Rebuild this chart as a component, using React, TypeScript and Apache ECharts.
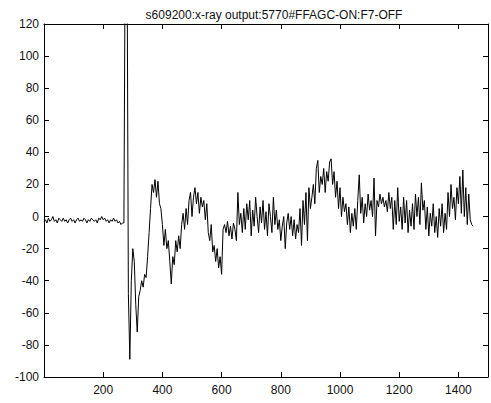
import React, { useEffect, useRef } from "react";
import * as echarts from "echarts";

const titleText = "s609200:x-ray output:5770#FFAGC-ON:F7-OFF";
const xStart = 0;
const xStep = 5;
// sampled signal values, one every 5 samples starting at 0
const signal = [
  -3, -2, -4, -1, -3, -2, 0, -3, -2, -4,
  -1, -2, -3, -1, -3, -2, -4, -2, -1, -3,
  -2, -4, -2, -1, -3, -2, -3, -1, -2, -4,
  -2, -3, -1, -2, -3, -2, -4, -1, -2, 0,
  -2, -1, -3, -2, -4, -2, -3, -1, -3, -2,
  -4, -3, -5, -4, -4, 200, 200, -48, -89, -40,
  -20, -28, -55, -72, -50, -46, -40, -44, -36, -38,
  -25, -10, 5, 20, 15, 23, 12, 22, 8, 5,
  -5, -18, -8, -20, -15, -28, -42, -25, -30, -15,
  -22, -12, -20, -5, 2, -8, 5, -5, 10, 15,
  0, 12, 18, 8, 15, 2, 12, 6, 10, -2,
  8, -10, -15, -5, -22, -18, -28, -20, -32, -25,
  -36, -8, -5, -10, -3, -12, -6, -14, -4, -8,
  -15, 15, -5, 2, -10, 5, -8, 8, -2, 10,
  -12, 4, -6, 12, 0, -10, 6, -4, 10, -8,
  3, -12, 8, 0, -10, 12, -5, 4, -8, -2,
  -15, -6, 0, -20, -4, 2, -8, 0, -12, -2,
  -14, -5, -10, 5, -18, 10, -5, 15, -15, 18,
  5, 12, 20, 8, 30, 35, 15, 25, 20, 30,
  15, 28, 22, 34, 36, 20, 28, 12, 22, 5,
  18, 0, 12, 3, 8, -5, 6, -10, 2, -6,
  5, -8, 10, 26, 2, 12, -4, 8, 0, 14,
  4, 10, 0, 24, -12, 10, 6, 14, 8, 12,
  6, 10, 3, 15, 5, 12, -8, 10, -5, 18,
  -3, 6, -8, 12, -4, 10, -10, 4, -6, 8,
  -8, 14, 0, 12, -5, 21, 4, 10, -8, 6,
  -12, 2, -6, 8, -10, 0, -13, 5, -6, 8,
  -10, 2, -8, 15, 0, 20, 5, 12, -2, 18,
  8, 25, 2, 29, 0, 18, -5, 14, -2, -5,
  -6,
];

const xMin = 0;
const xMax = 1500;
const xInterval = 200;
const yMin = -100;
const yMax = 120;
const yInterval = 20;

const FONT = "'Liberation Sans', Arial, sans-serif";

export default function App() {
  const ref = useRef<HTMLDivElement>(null);
  useEffect(() => {
    if (!ref.current) return;
    const chart = echarts.init(ref.current, undefined, { renderer: "svg" });
    const data = signal.map((v, i) => [xStart + i * xStep, v]);
    const axisLine = { show: true, onZero: false, lineStyle: { color: "#000", width: 1 } };
    const axisTick = { show: true, inside: true, length: 5, lineStyle: { color: "#000", width: 1 } };
    const label = { color: "#111", fontSize: 12, fontFamily: FONT };
    chart.setOption({
      animation: false,
      backgroundColor: "#fff",
      title: {
        text: titleText,
        left: 269,
        textAlign: "center",
        top: 4,
        textStyle: { color: "#111", fontSize: 12, fontWeight: "normal", fontFamily: FONT },
      },
      grid: { left: 44, top: 24, width: 450, height: 353, containLabel: false },
      xAxis: [
        {
          type: "value",
          position: "bottom",
          min: xMin,
          max: xMax,
          interval: xInterval,
          axisLine,
          axisTick,
          splitLine: { show: false },
          axisLabel: {
            ...label,
            margin: 7,
            formatter: (v: number) => (v === 0 || v % 200 !== 0 ? "" : String(v)),
          },
        },
        {
          type: "value",
          position: "top",
          min: xMin,
          max: xMax,
          interval: xInterval,
          axisLine,
          axisTick,
          splitLine: { show: false },
          axisLabel: { show: false },
        },
      ],
      yAxis: [
        {
          type: "value",
          position: "left",
          min: yMin,
          max: yMax,
          interval: yInterval,
          axisLine,
          axisTick,
          splitLine: { show: false },
          axisLabel: { ...label, margin: 5 },
        },
        {
          type: "value",
          position: "right",
          min: yMin,
          max: yMax,
          interval: yInterval,
          axisLine,
          axisTick,
          splitLine: { show: false },
          axisLabel: { show: false },
        },
      ],
      series: [
        {
          type: "line",
          xAxisIndex: 0,
          yAxisIndex: 0,
          data,
          showSymbol: false,
          symbol: "none",
          clip: true,
          lineStyle: { color: "#000", width: 1 },
        },
      ],
    });
    return () => chart.dispose();
  }, []);
  return (
    <div
      ref={ref}
      style={{ position: "fixed", left: 0, top: 0, width: 491, height: 403, background: "#fff" }}
    />
  );
}
